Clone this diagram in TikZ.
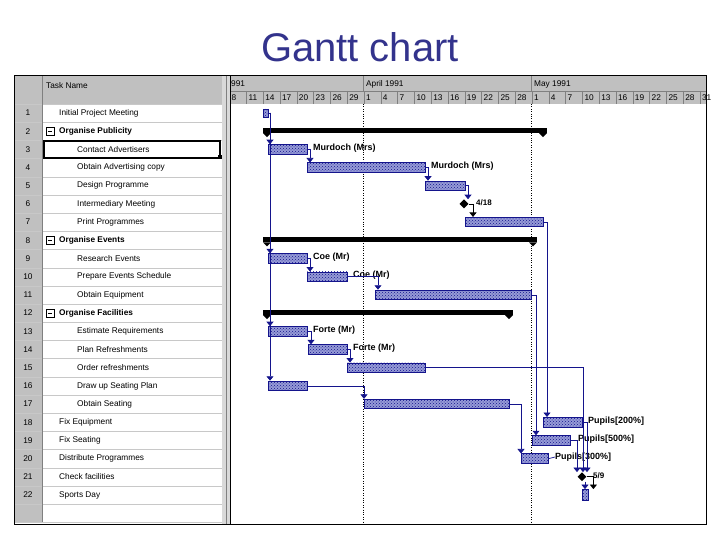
\documentclass[tikz,border=0pt]{standalone}
\usepackage{fontspec}
\setmainfont{Liberation Sans}
\usetikzlibrary{arrows.meta,patterns,shapes.geometric}
\definecolor{navy}{RGB}{20,20,140}
\definecolor{titleblue}{RGB}{51,51,140}
\definecolor{hdr}{RGB}{192,192,192}
\definecolor{gridc}{RGB}{200,200,200}
\definecolor{barfill}{RGB}{150,155,215}
\begin{document}
\begin{tikzpicture}[x=1pt,y=-1pt,
  bar/.style={draw=navy,line width=0.8pt,fill=barfill,postaction={pattern=crosshatch dots,pattern color=navy},minimum height=9.5pt,inner sep=0pt,anchor=west},
  link/.style={draw=navy,line width=0.7pt,-{Triangle[width=7pt,length=4.5pt]}},
  blink/.style={draw=black,line width=0.7pt,-{Triangle[width=7pt,length=4.5pt]}},
  res/.style={font=\fontsize{9}{10}\selectfont\bfseries,anchor=west,inner sep=0pt},
  tn/.style={font=\fontsize{8.3}{9}\selectfont,anchor=west,inner sep=0pt},
  tb/.style={font=\fontsize{8.3}{9}\selectfont\bfseries,anchor=west,inner sep=0pt},
  num/.style={font=\fontsize{8.3}{9}\selectfont,inner sep=0pt},
  day/.style={font=\fontsize{8.3}{9}\selectfont,inner sep=0pt},
  mile/.style={fill=black,diamond,inner sep=0pt,minimum size=9pt,draw=none}]
\useasboundingbox (0,0) rectangle (720,540);
\node[font=\fontsize{40}{44}\selectfont,text=titleblue] (title) at (360,47) {Gantt chart};
% table backgrounds
\fill[hdr] (14,76) rectangle (42,522);
\fill[hdr] (42,76) rectangle (222,104);
\fill[hdr] (230,76) rectangle (706,104);
\fill[hdr!60] (222,76) rectangle (230,524);
\draw[gray] (226,76) -- (226,524);
% grid
\foreach \i in {0,...,23}{\draw[gridc] (14,{104+\i*18.19}) -- (222,{104+\i*18.19});}
\draw[gray] (42,76) -- (42,522);
\draw[gray] (230,91) -- (706,91);
\draw[gray] (363,76) -- (363,91);
\draw[gray] (531,76) -- (531,91);
\foreach \k in {1,...,28}{\draw[gray] ({229.6+\k*16.8},91) -- ({229.6+\k*16.8},104);}
\draw[black,dotted] (363,104) -- (363,522);
\draw[black,dotted] (531,104) -- (531,522);
\draw[black,line width=1pt] (14,76) rectangle (706,524);
\draw[black] (230,76) -- (230,524);
% headers
\node[tn] (hname) at (46,86) {Task Name};
\node[day,anchor=west] (m1) at (231,84) {991};
\node[day,anchor=west] (m2) at (366,84) {April 1991};
\node[day,anchor=west] (m3) at (534,84) {May 1991};
\foreach \t [count=\k from 0] in {8,11,14,17,20,23,26,29,1,4,7,10,13,16,19,22,25,28,1,4,7,10,13,16,19,22,25,28,31}{
  \node[day,anchor=west] at ({231.5+\k*16.8},98) {\t};}
% row numbers and names
\foreach \i in {1,...,22}{\node[num] at (28,{113+(\i-1)*18.19}) {\i};}
\node[tn] (t1) at (59,113) {Initial Project Meeting};
\node[tb] (t2) at (59,131.2) {Organise Publicity};
\node[tn] (t3) at (77,149.4) {Contact Advertisers};
\node[tn] (t4) at (77,167.6) {Obtain Advertising copy};
\node[tn] (t5) at (77,185.8) {Design Programme};
\node[tn] (t6) at (77,203.9) {Intermediary Meeting};
\node[tn] (t7) at (77,222.1) {Print Programmes};
\node[tb] (t8) at (59,240.3) {Organise Events};
\node[tn] (t9) at (77,258.5) {Research Events};
\node[tn] (t10) at (77,276.7) {Prepare Events Schedule};
\node[tn] (t11) at (77,294.9) {Obtain Equipment};
\node[tb] (t12) at (59,313.1) {Organise Facilities};
\node[tn] (t13) at (77,331.3) {Estimate Requirements};
\node[tn] (t14) at (77,349.5) {Plan Refreshments};
\node[tn] (t15) at (77,367.7) {Order refreshments};
\node[tn] (t16) at (77,385.9) {Draw up Seating Plan};
\node[tn] (t17) at (77,404.0) {Obtain Seating};
\node[tn] (t18) at (59,422.2) {Fix Equipment};
\node[tn] (t19) at (59,440.4) {Fix Seating};
\node[tn] (t20) at (59,458.6) {Distribute Programmes};
\node[tn] (t21) at (59,476.8) {Check facilities};
\node[tn] (t22) at (59,495) {Sports Day};
\foreach \y in {131.2,240.3,313.1}{\draw (46,\y-4) rectangle (54,\y+4); \draw (48,\y) -- (52,\y);}
\draw[line width=1.6pt] (44,141) rectangle (220,158);
\fill (218,155) rectangle (222,159);
% summary bars
\foreach \a/\b/\y in {263/547/131.2,263/537/240.3,263/513/313.1}{
  \fill (\a,\y-3.5) rectangle (\b,\y+2);
  \fill (\a,\y+2) -- (\a+8,\y+2) -- (\a+4,\y+6) -- cycle;
  \fill (\b-8,\y+2) -- (\b,\y+2) -- (\b-4,\y+6) -- cycle;}
% bars
\node[bar,minimum width=5pt,minimum height=8pt] (b1) at (263,113) {};
\node[bar,minimum width=39pt] (b3) at (268,149.4) {};
\node[bar,minimum width=118pt] (b4) at (307,167.6) {};
\node[bar,minimum width=40pt] (b5) at (425,185.8) {};
\node[mile] (b6) at (464,203.9) {};
\node[bar,minimum width=78pt] (b7) at (465,222.1) {};
\node[bar,minimum width=39pt] (b9) at (268,258.5) {};
\node[bar,minimum width=40pt] (b10) at (307,276.7) {};
\node[bar,minimum width=156pt] (b11) at (375,294.9) {};
\node[bar,minimum width=39pt] (b13) at (268,331.3) {};
\node[bar,minimum width=39pt] (b14) at (308,349.5) {};
\node[bar,minimum width=78pt] (b15) at (347,367.7) {};
\node[bar,minimum width=39pt] (b16) at (268,385.9) {};
\node[bar,minimum width=145pt] (b17) at (364,404.0) {};
\node[bar,minimum width=39pt] (b18) at (543,422.2) {};
\node[bar,minimum width=38pt] (b19) at (532,440.4) {};
\node[bar,minimum width=27pt] (b20) at (521,458.6) {};
\node[mile] (b21) at (582,476.8) {};
\node[bar,minimum width=6pt,minimum height=11pt] (b22) at (582,495) {};
% labels
\node[res] (r3) at (313,148) {Murdoch (Mrs)};
\node[res] (r4) at (431,166) {Murdoch (Mrs)};
\node[res,font=\fontsize{8}{9}\selectfont\bfseries] (r6) at (476,203) {4/18};
\node[res] (r9) at (313,257) {Coe (Mr)};
\node[res] (r10) at (353,275) {Coe (Mr)};
\node[res] (r13) at (313,330) {Forte (Mr)};
\node[res] (r14) at (353,348) {Forte (Mr)};
\node[res] (r18) at (588,421) {Pupils[200\%]};
\node[res] (r19) at (578,439) {Pupils[500\%]};
\node[res] (r20) at (555,457) {Pupils[300\%]};
\node[res,font=\fontsize{8}{9}\selectfont\bfseries] (r21) at (593,476) {5/9};
% links
\coordinate (c1) at (270,113);
\draw[navy,line width=0.7pt] (b1.east) -- (c1);
\draw[link] (c1) -- (b3.north west -| c1);
\draw[link] (c1) -- (b9.north west -| c1);
\draw[link] (c1) -- (b13.north west -| c1);
\draw[link] (c1) -- (b16.north west -| c1);
\draw[link] (b3.east) -| ([xshift=3pt]b4.north west);
\draw[link] (b4.east) -| ([xshift=3pt]b5.north west);
\draw[link] (b5.east) -| ([xshift=4pt]b6.north);
\draw[blink] (b6.east) -| ([xshift=8pt]b7.north west);
\draw[link] (b7.east) -| ([xshift=4pt]b18.north west);
\draw[link] (b9.east) -| ([xshift=3pt]b10.north west);
\draw[link] (b10.east) -| ([xshift=3pt]b11.north west);
\draw[link] (b11.east) -| ([xshift=4pt]b19.north west);
\draw[link] (b13.east) -| ([xshift=3pt]b14.north west);
\draw[link] (b14.east) -| ([xshift=3pt]b15.north west);
\draw[link] (b15.east) -| ([xshift=1pt]b21.north);
\draw[link] (b16.east) -| ([xshift=0pt]b17.north west);
\draw[link] (b17.east) -| ([xshift=0pt]b20.north west);
\draw[link] (b18.east) -| ([xshift=5pt]b21.north);
\draw[link] (b19.east) -| ([xshift=-5pt]b21.north);
\draw[navy,line width=0.7pt] (b20.east) -- (r20.west);
\draw[blink] (b21.east) -| ([xshift=8pt]b22.north);
\draw[link] ([xshift=3pt]b21.south) -- ([xshift=3pt]b22.north west);
\end{tikzpicture}
\end{document}
